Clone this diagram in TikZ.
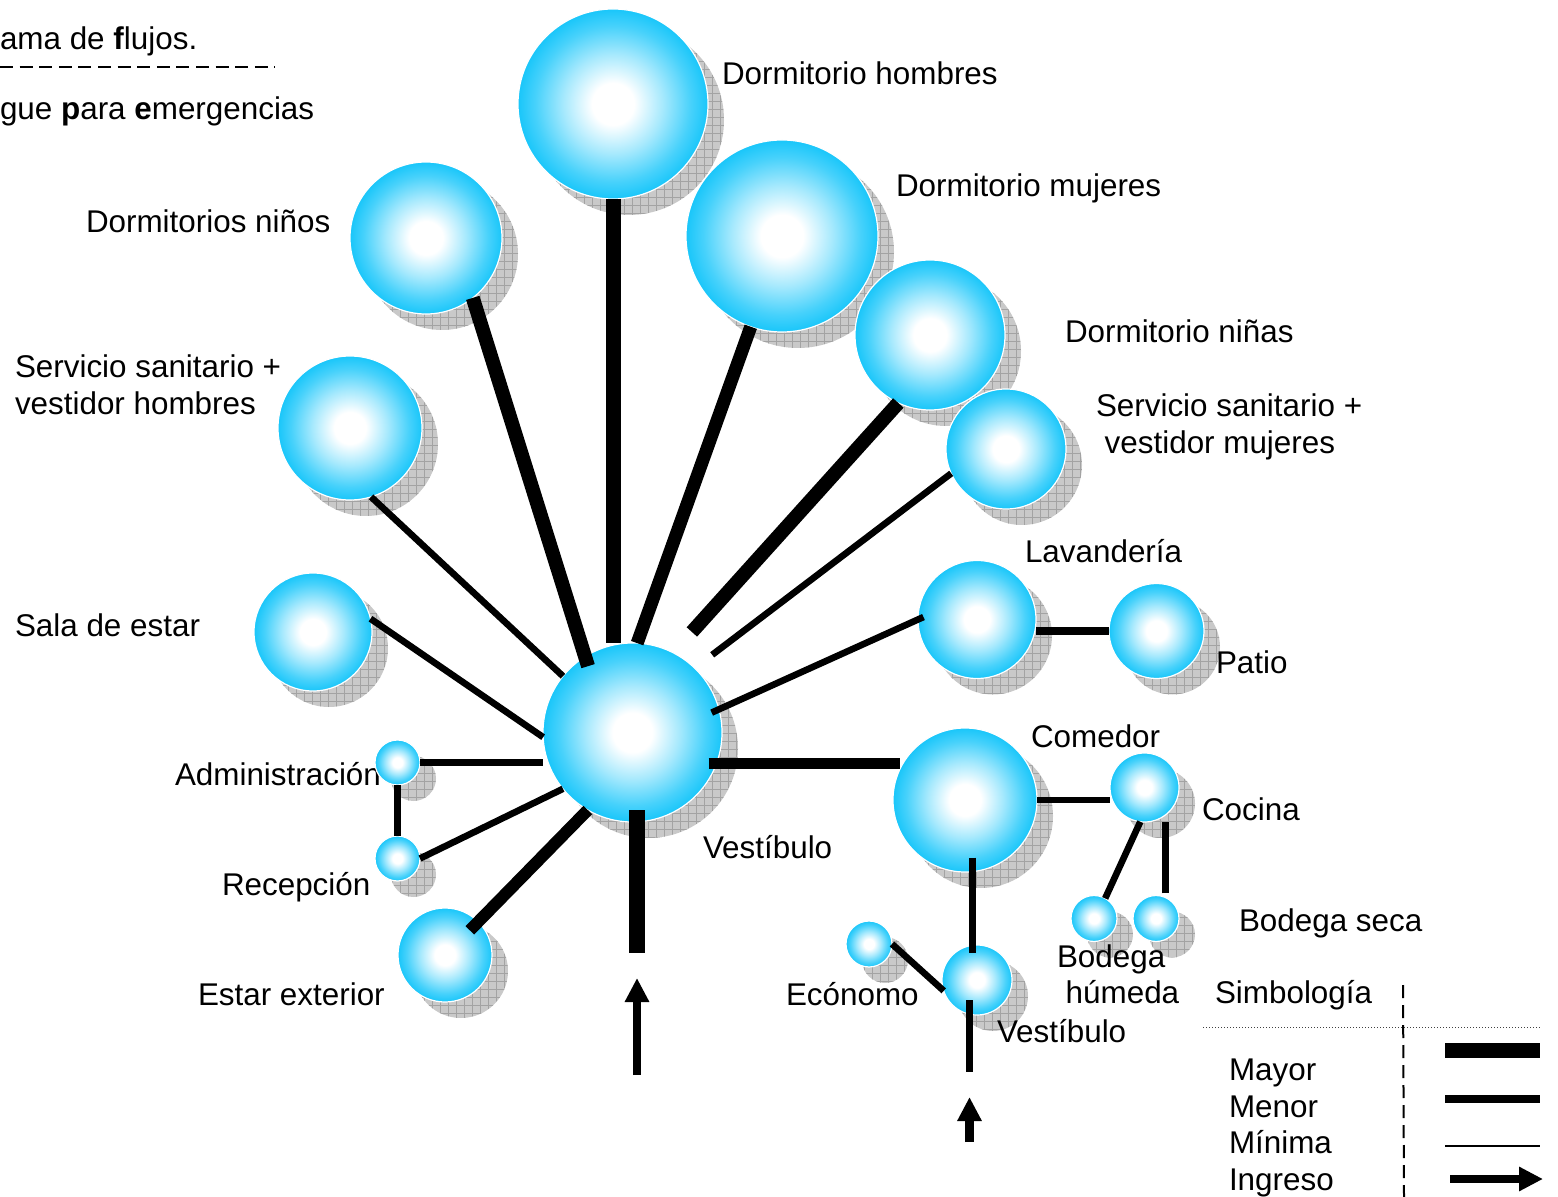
\documentclass[tikz,border=0pt]{standalone}
\usepackage{fontspec}
\setmainfont{Liberation Sans}
\usetikzlibrary{positioning, arrows.meta, shadows, patterns}

\definecolor{celeste}{RGB}{25,198,250}
\pgfdeclareradialshading{esferas}{\pgfpoint{0bp}{0bp}}{color(0bp)=(white); color(5.5bp)=(white);
  color(13bp)=(celeste!38!white); color(20.5bp)=(celeste!80!white); color(25bp)=(celeste); color(50bp)=(celeste)}
\pgfdeclarepatternformonly{rejilla}{\pgfpoint{-0.1pt}{-0.1pt}}{\pgfpoint{4.1pt}{4.1pt}}{\pgfpoint{4pt}{4pt}}{%
  \pgfsetlinewidth{0.4pt}
  \pgfpathmoveto{\pgfpoint{0pt}{0pt}}\pgfpathlineto{\pgfpoint{4.1pt}{0pt}}
  \pgfpathmoveto{\pgfpoint{0pt}{0pt}}\pgfpathlineto{\pgfpoint{0pt}{4.1pt}}
  \pgfusepath{stroke}}
\newcommand{\rotulofuente}{\fontsize{15.7}{18.3}\selectfont}

\begin{document}
\begin{tikzpicture}[x=0.5pt, y=-0.5pt,
    esfera/.style={circle, inner sep=0pt, outer sep=0pt, minimum size=#1, draw=white, line width=0.6pt,
      shading=esferas,
      drop shadow={shadow xshift=8pt, shadow yshift=-8pt, opacity=1, fill=black!21},
      drop shadow={shadow xshift=8pt, shadow yshift=-8pt, opacity=1, pattern=rejilla, pattern color=black!36}},
    rotulo/.style={anchor=base west, inner sep=0pt, outer sep=0pt, text height=11.5pt, text depth=3.5pt,
      font=\rotulofuente},
    mayor/.style={line width=7.2pt}, media/.style={line width=5.6pt},
    menor/.style={line width=3.3pt}, minima/.style={line width=1pt},
    ingreso/.style={line width=4.25pt, -{Triangle[length=12pt, width=11.5pt]}}]

  \useasboundingbox (0,0) rectangle (1558,1197);

  \node[rotulo] (titulo) at (0,50) {ama de \textbf{f}lujos.};
  \node[rotulo] (desfogue) at (0,120) {gue \textbf{p}ara \textbf{e}mergencias};
  \draw[line width=0.75pt, dash pattern=on 6.5pt off 3.3pt] (0,67) -- (275,67);
  \node[rotulo] (tadm) at (175,785) {Administración};

  % espacios
  \node[esfera=95pt]   (dh)    at (613,104)     {};
  \node[esfera=76pt]   (dn)    at (426,238)     {};
  \node[esfera=96pt]   (dm)    at (782,236)     {};
  \node[esfera=75pt]   (dnas)  at (930,335)     {};
  \node[esfera=72pt]   (ssh)   at (350,428)     {};
  \node[esfera=60pt]   (ssm)   at (1006,449)    {};
  \node[esfera=59pt]   (sala)  at (313,632)     {};
  \node[esfera=59pt]   (lav)   at (977,619.5)   {};
  \node[esfera=47.5pt] (patio) at (1156.5,631)  {};
  \node[esfera=89.5pt] (vest)  at (632.5,732.5) {};
  \node[esfera=22.5pt] (adm)   at (397.5,762.5) {};
  \node[esfera=22.5pt] (rec)   at (397.5,858.5) {};
  \node[esfera=47pt]   (estar) at (445,955)     {};
  \node[esfera=72pt]   (com)   at (965,800)     {};
  \node[esfera=34.5pt] (coc)   at (1144.5,787.5) {};
  \node[esfera=23pt]   (bh)    at (1094,918.5)  {};
  \node[esfera=23pt]   (bs)    at (1156,918.5)  {};
  \node[esfera=23pt]   (econ)  at (869,944)     {};
  \node[esfera=35pt]   (vest2) at (977,980)     {};

  % flujos
  \draw[mayor, line width=7.5pt] (dh.south) -- (dh.south |- vest.north);
  \draw[mayor, line width=7pt, shorten >=-5pt] (dn.-52) -- (vest.122);
  \draw[mayor, line width=6.5pt] (dm.-109) -- (vest.87);
  \draw[mayor, line width=7pt, shorten >=14pt] (dnas.-115) -- (vest.63);
  \draw[menor, shorten >=11pt] (ssm.-156) -- (vest.46);
  \draw[menor] (ssh.-73) -- (vest.141);
  \draw[menor] (sala.13) -- (vest.183);
  \draw[menor, shorten <=-3pt, shorten >=-4pt] (lav.180) -- (vest.15);
  \draw[media, shorten <=-4pt, shorten >=-3.5pt] (vest.-20) -- (vest.-20 -| com.west);
  \draw[menor] (adm.east) -- (adm.east -| vest.west);
  \draw[menor] (adm.south) -- (rec.north);
  \draw[menor] (rec.east) -- (vest.-141);
  \draw[media, line width=6pt, shorten <=-6pt] (estar.45) -- (vest.-120);
  \coordinate (entrada) at (637,953);
  \coordinate (flecha) at (637,1075);
  \draw[mayor, line width=8pt, shorten <=-6pt] (entrada |- vest.south) -- (entrada);
  \draw[ingreso, shorten >=12.5pt] (flecha) -- (entrada);
  \draw[menor, line width=4pt] (patio.west) -- (patio.west -| lav.east);
  \draw[menor] (com.east) -- (com.east -| coc.west);
  \draw[menor] (coc.-97) -- (bh.61);
  \draw[menor, shorten <=2pt] (bs.66) -- (bs.66 |- coc.south);
  \draw[menor, shorten <=-7pt, shorten >=-4pt] (com.-84) -- (com.-84 |- vest2.north);
  \draw[menor] (econ.east) -- (vest2.198);
  \coordinate (entrada2) at (969.5,1072);
  \coordinate (flecha2) at (969.5,1142);
  \draw[menor, shorten <=-7.5pt] (entrada2 |- vest2.south) -- (entrada2);
  \draw[ingreso, shorten >=12.5pt] (flecha2) -- (entrada2);

  % rotulos
  \node[rotulo] (tdh)    at (722,85)    {Dormitorio hombres};
  \node[rotulo] (tdm)    at (896,196.5) {Dormitorio mujeres};
  \node[rotulo] (tdn)    at (86,232.5)  {Dormitorios niños};
  \node[rotulo] (tdnas)  at (1065,343)  {Dormitorio niñas};
  \node[rotulo] (tssh)   at (15,378)    {Servicio sanitario +};
  \node[rotulo, below right=3.35pt and 0pt of tssh.south west] (tssh2) {vestidor hombres};
  \node[rotulo] (tssm)   at (1096,417)  {Servicio sanitario +};
  \node[rotulo, below right=3.35pt and 0pt of tssm.south west] (tssm2) {\ vestidor mujeres};
  \node[rotulo] (tlav)   at (1025,563)  {Lavandería};
  \node[rotulo] (tsala)  at (15,637)    {Sala de estar};
  \node[rotulo] (tpatio) at (1216,674)  {Patio};
  \node[rotulo] (tcom)   at (1031,747)  {Comedor};
  \node[rotulo] (tcoc)   at (1202,820)  {Cocina};
  \node[rotulo] (tvest)  at (703,858)   {Vestíbulo};
  \node[rotulo] (trec)   at (222,895)   {Recepción};
  \node[rotulo] (tbs)    at (1239,931)  {Bodega seca};
  \node[rotulo] (tbh)    at (1057,967)  {Bodega};
  \node[rotulo, below right=3.35pt and 0pt of tbh.south west] (tbh2) {\ húmeda};
  \node[rotulo] (testar) at (198,1005)  {Estar exterior};
  \node[rotulo] (tecon)  at (786,1005)  {Ecónomo};
  \node[rotulo] (tvest2) at (997,1042)  {Vestíbulo};

  % simbologia
  \node[rotulo] (tsimb)  at (1215,1003) {Simbología};
  \node[rotulo] (tmayor) at (1229,1080.5) {Mayor};
  \node[rotulo, below right=3.35pt and 0pt of tmayor.south west] (tmenor) {Menor};
  \node[rotulo, below right=3.35pt and 0pt of tmenor.south west] (tminima) {Mínima};
  \node[rotulo, below right=3.35pt and 0pt of tminima.south west] (tingreso) {Ingreso};
  \draw[black!75, line width=0.5pt, dash pattern=on 0.5pt off 1pt] (1203,1027) -- (1540,1027);
  \draw[line width=1pt, dash pattern=on 6.5pt off 3.5pt] (1403,985) -- (1404,1197);
  \draw[mayor, line width=7.5pt] (1445,1050.5) -- (1540,1050.5);
  \draw[menor, line width=4pt] (1445,1099) -- (1540,1099);
  \draw[minima] (1445,1146) -- (1540,1146);
  \draw[ingreso] (1450,1179) -- (1543,1179);

\end{tikzpicture}
\end{document}
